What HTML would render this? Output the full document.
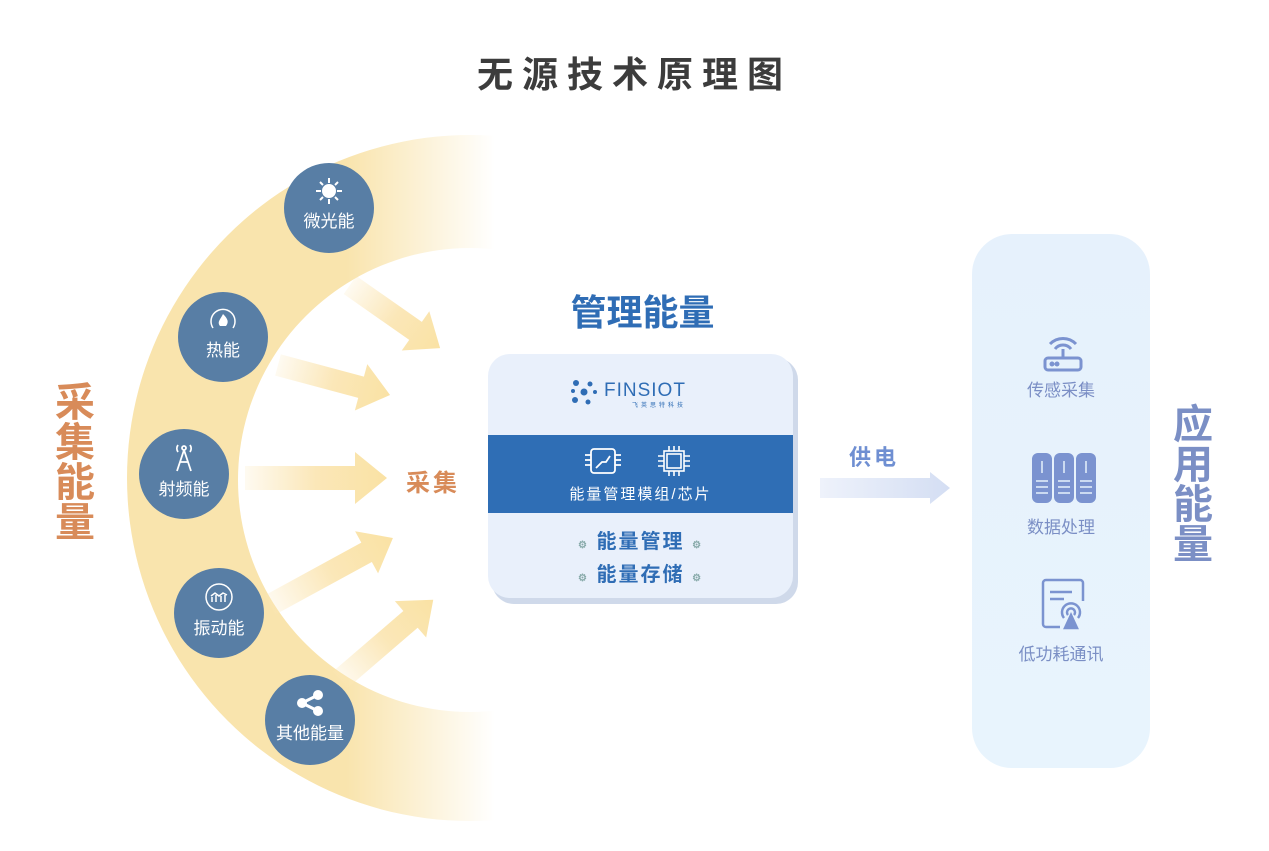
<!DOCTYPE html>
<html><head><meta charset="utf-8"><style>
body{margin:0;width:1269px;height:851px;background:#fff;position:relative;overflow:hidden;font-family:"Liberation Sans","Noto Sans CJK SC",sans-serif}
.a{position:absolute}
.c{position:absolute;border-radius:50%;background:#587ea5;color:#fff;text-align:center;font-size:17px}
.c svg{display:block;margin:14px auto 2px}
</style></head><body>
<div class="a" style="left:0;width:1269px;top:46px;text-align:center;font-size:36px;font-weight:bold;color:#3c3c3c;letter-spacing:9px">无源技术原理图</div>

<svg class="a" style="left:0;top:0" width="1269" height="851">
<defs>
<linearGradient id="fm" gradientUnits="userSpaceOnUse" x1="0" y1="0" x2="495" y2="0">
<stop offset="0" stop-color="#fff"/><stop offset="0.7" stop-color="#fff"/><stop offset="0.9" stop-color="#555"/><stop offset="1" stop-color="#000"/></linearGradient>
<mask id="m"><rect x="0" y="0" width="600" height="851" fill="url(#fm)"/></mask>
<linearGradient id="ga" x1="0" x2="1"><stop offset="0" stop-color="#fbe7b8" stop-opacity="0.2"/><stop offset="0.5" stop-color="#fbe7b8"/><stop offset="1" stop-color="#fae2a4"/></linearGradient>
<linearGradient id="gb" x1="0" x2="1"><stop offset="0" stop-color="#eef2fb"/><stop offset="1" stop-color="#d4def3"/></linearGradient>
<linearGradient id="gp" x1="0" x2="0" y1="0" y2="1"><stop offset="0" stop-color="#e6f1fc"/><stop offset="1" stop-color="#e8f4fd"/></linearGradient>
</defs>
<g mask="url(#m)">
<path fill-rule="evenodd" fill="#f9e4ad" d="M470 135 A343 343 0 1 0 470.01 135 Z M470 248 A232 232 0 1 1 469.99 248 Z"/>
</g>
<g fill="url(#ga)">
<g transform="translate(350,285) rotate(35)"><polygon points="0,-11 80,-11 80,-24 110,0 80,24 80,11 0,11"/></g>
<g transform="translate(278,365) rotate(15)"><polygon points="0,-11 86,-11 86,-24 116,0 86,24 86,11 0,11"/></g>
<g transform="translate(245,478)"><polygon points="0,-12 110,-12 110,-26 142,0 110,26 110,12 0,12"/></g>
<g transform="translate(270,605) rotate(-28.6)"><polygon points="0,-11 110,-11 110,-24 140,0 110,24 110,11 0,11"/></g>
<g transform="translate(340,680) rotate(-40.7)"><polygon points="0,-11 93,-11 93,-24 123,0 93,24 93,11 0,11"/></g>
</g>
<rect x="972" y="234" width="178" height="534" rx="40" fill="url(#gp)"/>
<polygon points="820,478 930,478 930,472 950,488 930,504 930,498 820,498" fill="url(#gb)"/>
</svg>

<div class="a" style="left:55px;top:383px;width:46px;font-size:40px;font-weight:bold;color:#d88b59;line-height:40px">采集能量</div>
<div class="a" style="left:406px;top:463px;font-size:24px;font-weight:bold;color:#d88b59;letter-spacing:3px">采集</div>

<div class="c" style="left:284px;top:163px;width:90px;height:90px">
<svg width="28" height="28" viewBox="0 0 28 28" stroke="#fff" stroke-width="2"><circle cx="14" cy="14" r="6" fill="#fff"/><path d="M14 1v5M14 22v5M1 14h5M22 14h5M5 5l3 3M20 20l3 3M5 23l3-3M20 8l3-3"/></svg>微光能</div>
<div class="c" style="left:178px;top:292px;width:90px;height:90px">
<svg width="30" height="28" viewBox="0 0 30 28"><path d="M5 22A12 12 0 1 1 25 22" stroke="#fff" fill="none" stroke-width="1.5"/><path d="M15 8c5 5 6 8 3 12h-6c-3-4 0-6 3-12z" fill="#fff"/></svg>热能</div>
<div class="c" style="left:139px;top:429px;width:90px;height:90px">
<svg width="26" height="30" viewBox="0 0 26 30" stroke="#fff" fill="none" stroke-width="1.8"><circle cx="13" cy="5" r="2"/><path d="M7 2a6 6 0 0 0 0 7M19 2a6 6 0 0 1 0 7M13 7L6 28M13 7l7 21M9 19h8"/></svg>射频能</div>
<div class="c" style="left:174px;top:568px;width:90px;height:90px">
<svg width="34" height="30" viewBox="0 0 34 30" stroke="#fff" fill="none" stroke-width="1.5"><circle cx="17" cy="15" r="13"/><path d="M10 20v-5M14 20v-7M19 20v-6M23 20v-7M9 14l4-3 4 3 4-3 4 2"/></svg>振动能</div>
<div class="c" style="left:265px;top:675px;width:90px;height:90px">
<svg width="28" height="28" viewBox="0 0 28 28"><circle cx="6" cy="14" r="5" fill="#fff"/><circle cx="22" cy="6" r="5" fill="#fff"/><circle cx="22" cy="22" r="5" fill="#fff"/><path d="M6 14L22 6M6 14l16 8" stroke="#fff" stroke-width="3"/></svg>其他能量</div>

<div class="a" style="left:560px;top:284px;width:165px;text-align:center;font-size:36px;font-weight:bold;color:#2f6db5">管理能量</div>

<div class="a" style="left:492px;top:358px;width:306px;height:246px;border-radius:22px;background:#cfd9ea"></div>
<div class="a" style="left:488px;top:354px;width:305px;height:244px;border-radius:22px;background:#e9f0fb;overflow:hidden">
 <div class="a" style="left:82px;top:24px;width:140px;height:32px">
  <svg width="28" height="28" viewBox="0 0 28 28" fill="#2f6db5"><circle cx="6" cy="5" r="3"/><circle cx="20" cy="6" r="2.5"/><circle cx="14" cy="14" r="3.5"/><circle cx="5" cy="22" r="3"/><circle cx="18" cy="24" r="2.5"/><circle cx="25" cy="14" r="2"/><circle cx="3" cy="13" r="2"/></svg>
  <span class="a" style="left:34px;top:2px;font-size:19px;color:#2f6db5;letter-spacing:1px">FINSIOT</span>
  <span class="a" style="left:62px;top:22px;font-size:6px;color:#2f6db5;letter-spacing:3px">飞英思特科技</span>
 </div>
 <div class="a" style="left:0;top:81px;width:305px;height:78px;background:#2f6eb5;color:#fff">
  <svg class="a" style="left:96px;top:12px" width="38" height="28" viewBox="0 0 38 28" stroke="#fff" fill="none" stroke-width="1.8"><rect x="7" y="2" width="24" height="24" rx="3"/><path d="M1 8h6M1 13h6M1 18h6M31 8h6M31 13h6M31 18h6M12 21l6-6h4l4-6"/></svg>
  <svg class="a" style="left:168px;top:10px" width="36" height="32" viewBox="0 0 36 32" stroke="#fff" fill="none" stroke-width="1.6"><rect x="8" y="6" width="20" height="20"/><rect x="11" y="9" width="14" height="14"/><path d="M13 1v5M18 1v5M23 1v5M13 26v5M18 26v5M23 26v5M2 11h6M2 16h6M2 21h6M28 11h6M28 16h6M28 21h6"/></svg>
  <div class="a" style="left:0;width:305px;top:48px;text-align:center;font-size:15px;letter-spacing:2px">能量管理模组/芯片</div>
 </div>
 <div class="a" style="left:0;width:305px;top:171px;text-align:center;font-size:20px;font-weight:bold;color:#2f6db5;letter-spacing:2px"><span style="font-size:10px;color:#8aa">⚙</span> 能量管理 <span style="font-size:10px;color:#8aa">⚙</span></div>
 <div class="a" style="left:0;width:305px;top:204px;text-align:center;font-size:20px;font-weight:bold;color:#2f6db5;letter-spacing:2px"><span style="font-size:10px;color:#8aa">⚙</span> 能量存储 <span style="font-size:10px;color:#8aa">⚙</span></div>
</div>

<div class="a" style="left:849px;top:440px;font-size:22px;font-weight:bold;color:#6f8fd2;letter-spacing:3px">供电</div>

<svg class="a" style="left:1042px;top:330px" width="42" height="42" viewBox="0 0 42 42" stroke="#7b93d0" fill="none" stroke-width="3"><path d="M8 14a18 18 0 0 1 26 0M13 19a10 10 0 0 1 16 0"/><path d="M21 19v10"/><rect x="3" y="28" width="36" height="12" rx="3"/><circle cx="10" cy="34" r="1" fill="#7b93d0"/><circle cx="15" cy="34" r="1" fill="#7b93d0"/></svg>
<div class="a" style="left:972px;width:178px;top:376px;text-align:center;font-size:17px;color:#7b8fc5">传感采集</div>
<svg class="a" style="left:1032px;top:453px" width="64" height="50" viewBox="0 0 64 50"><g fill="#7b93d0"><rect x="0" y="0" width="20" height="50" rx="6"/><rect x="22" y="0" width="20" height="50" rx="6"/><rect x="44" y="0" width="20" height="50" rx="6"/></g><g stroke="#e6f1fc" stroke-width="1.5"><path d="M10 8v12M32 8v12M54 8v12M4 28h12M4 34h12M4 40h12M26 28h12M26 34h12M26 40h12M48 28h12M48 34h12M48 40h12"/></g></svg>
<div class="a" style="left:972px;width:178px;top:513px;text-align:center;font-size:17px;color:#7b8fc5">数据处理</div>
<svg class="a" style="left:1040px;top:578px" width="46" height="52" viewBox="0 0 46 52" stroke="#7b93d0" fill="none" stroke-width="2.5"><path d="M20 49H6a3 3 0 0 1-3-3V5a3 3 0 0 1 3-3h34a3 3 0 0 1 3 3v18"/><path d="M10 14h22M10 21h14"/><path d="M24 40a9 9 0 1 1 14 0M28 37a4 4 0 1 1 6 0"/><polygon points="31,37 25,50 37,50" fill="#7b93d0"/></svg>
<div class="a" style="left:972px;width:178px;top:640px;text-align:center;font-size:17px;color:#7b8fc5">低功耗通讯</div>

<div class="a" style="left:1173px;top:405px;width:42px;font-size:40px;font-weight:bold;color:#7b8fc5;line-height:40px">应用能量</div>
</body></html>
